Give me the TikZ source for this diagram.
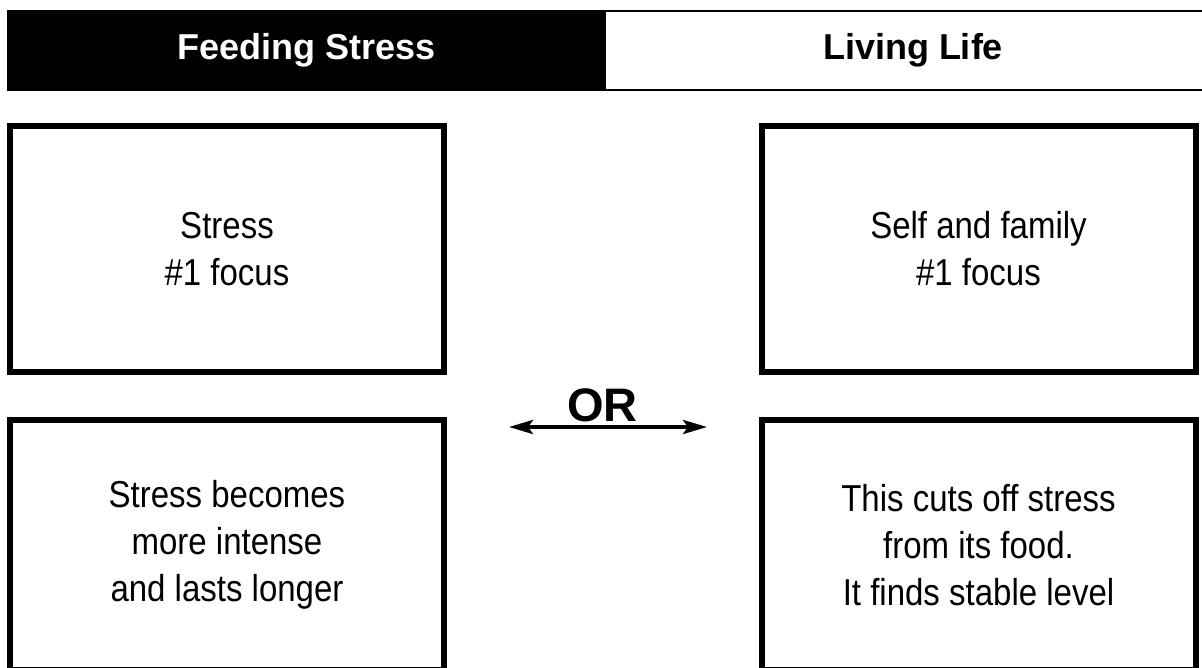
\documentclass[tikz,border=0pt]{standalone}
\usepackage{fontspec}
\setmainfont{Liberation Sans}
\newfontfamily\condfont[FakeStretch=0.88]{Liberation Sans}
\usetikzlibrary{arrows.meta, positioning}

\begin{document}
\begin{tikzpicture}[x=1pt, y=-1pt,
  head/.style={rectangle, inner sep=0pt, font=\fontsize{36}{40}\selectfont\bfseries},
  panel/.style={rectangle, draw=black, line width=6pt, fill=white, minimum width=434pt, minimum height=246pt, align=center, inner sep=0pt, font=\condfont\fontsize{37.5}{47}\selectfont},
  ortext/.style={anchor=base, inner sep=0pt, font=\fontsize{47}{50}\selectfont\bfseries},
  arr/.style={{Stealth[length=24pt, width=14pt, inset=5pt]}-{Stealth[length=24pt, width=14pt, inset=5pt]}, line width=4pt}]
\useasboundingbox (0,0) rectangle (1202,667);
\clip (0,0) rectangle (1202,667);
% header bar
\node[head, fill=black, text=white, minimum width=599pt, minimum height=81pt] (feed) at (306.5,50.5) {Feeding Stress};
\node[head, minimum width=614pt, minimum height=79pt] (live) at (913,50.5) {Living Life};
\draw[line width=2pt] (live.north west) -- (live.north east) (live.south west) -- (live.south east);
% the four panels
\node[panel] (stress1) at (227,249) {Stress\\\#1 focus};
\node[panel] (self1) at (978.5,249) {Self and family\\\#1 focus};
\node[panel, minimum height=250pt] (stress2) at (227,545) {Stress becomes\\more intense\\and lasts longer};
\node[panel, minimum height=250pt] (self2) at (978.5,545) {This cuts off stress\\from its food.\\It finds stable level};
% either way
\coordinate (orL) at (509,427);
\coordinate (orR) at (707,427);
\node[ortext] (or) at (602.5,421) {OR};
\draw[arr] (orL) -- (orR);
\end{tikzpicture}
\end{document}
